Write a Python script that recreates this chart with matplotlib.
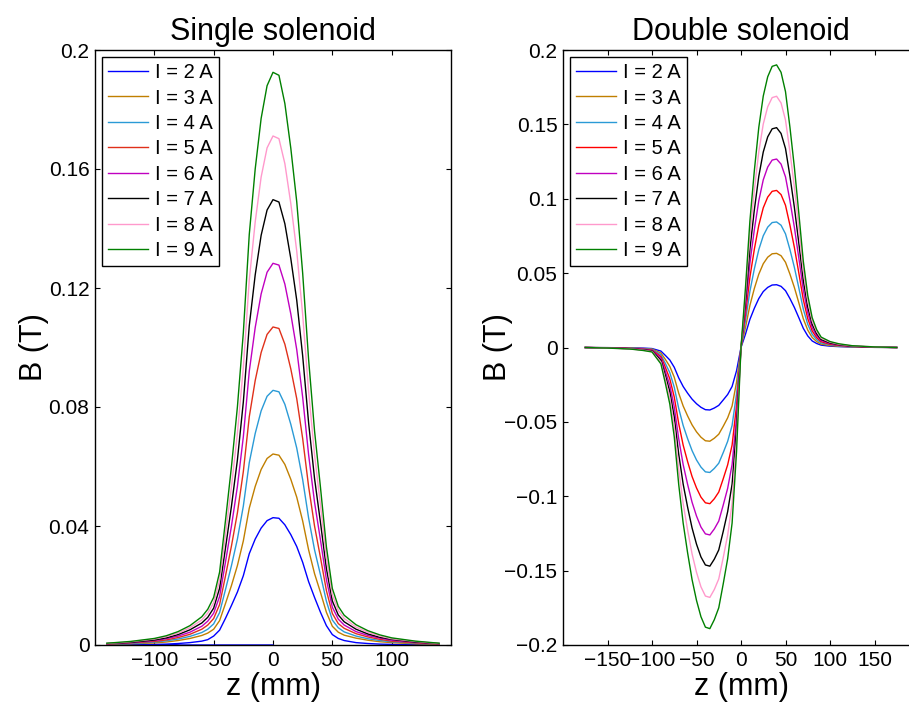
import matplotlib
matplotlib.use("Agg")
import matplotlib.pyplot as plt

plt.rcParams['font.family'] = ['Liberation Sans', 'DejaVu Sans']

currents = [2, 3, 4, 5, 6, 7, 8, 9]
labels = [f"I = {i} A" for i in currents]
colors_single = ['#0000ff', '#c07f00', '#2a9ad6', '#e0301a', '#c000c0', '#000000', '#ff99cc', '#008000']
colors_double = ['#0000ff', '#c07f00', '#2a9ad6', '#ff0000', '#c000c0', '#000000', '#ff99cc', '#008000']

# ---------------- Single solenoid ----------------
z_single = [-140, -120, -100, -90, -80, -70, -60, -55, -50, -45, -40, -35, -30, -25, -20, -15, -10, -5, 0,
            5, 10, 15, 20, 25, 30, 35, 40, 45, 50, 55, 60, 70, 80, 90, 100, 120, 140]
z_single_2A = [0] + z_single

B_single_2A = [0.0, 0.0000, 0.0001, 0.0002, 0.0003, 0.0005, 0.0008, 0.0013, 0.0018, 0.0030, 0.0050, 0.0090, 0.0133, 0.0178,
               0.0233, 0.0307, 0.0356, 0.0393, 0.0418, 0.0428, 0.0426, 0.0404, 0.0371, 0.0331, 0.0278, 0.0213,
               0.0160, 0.0110, 0.0065, 0.0035, 0.0022, 0.0015, 0.0008, 0.0005, 0.0003, 0.0002, 0.0001, 0.0000]
B_single_3A = [0.0002, 0.0004, 0.0007, 0.0010, 0.0015, 0.0022, 0.0032, 0.0040, 0.0053, 0.0082, 0.0140, 0.0200,
               0.0267, 0.0350, 0.0460, 0.0533, 0.0590, 0.0627, 0.0642, 0.0638, 0.0607, 0.0557, 0.0497, 0.0417,
               0.0320, 0.0240, 0.0177, 0.0110, 0.0063, 0.0043, 0.0033, 0.0023, 0.0016, 0.0011, 0.0008, 0.0004, 0.0002]
B_single_4A = [0.0003, 0.0005, 0.0010, 0.0014, 0.0020, 0.0029, 0.0042, 0.0053, 0.0071, 0.0109, 0.0187, 0.0267,
               0.0356, 0.0467, 0.0613, 0.0711, 0.0787, 0.0836, 0.0856, 0.0851, 0.0809, 0.0742, 0.0662, 0.0556,
               0.0427, 0.0320, 0.0236, 0.0147, 0.0084, 0.0058, 0.0044, 0.0030, 0.0021, 0.0015, 0.0011, 0.0006, 0.0003]
B_single_5A = [0.0003, 0.0007, 0.0012, 0.0017, 0.0025, 0.0036, 0.0053, 0.0067, 0.0089, 0.0136, 0.0233, 0.0333,
               0.0444, 0.0583, 0.0767, 0.0889, 0.0983, 0.1044, 0.1069, 0.1064, 0.1011, 0.0928, 0.0828, 0.0694,
               0.0533, 0.0400, 0.0294, 0.0183, 0.0106, 0.0072, 0.0056, 0.0038, 0.0027, 0.0019, 0.0013, 0.0007, 0.0003]
B_single_6A = [0.0004, 0.0008, 0.0015, 0.0021, 0.0030, 0.0043, 0.0063, 0.0080, 0.0107, 0.0163, 0.0280, 0.0400,
               0.0533, 0.0700, 0.0920, 0.1067, 0.1180, 0.1253, 0.1283, 0.1277, 0.1213, 0.1113, 0.0993, 0.0833,
               0.0640, 0.0480, 0.0353, 0.0220, 0.0127, 0.0087, 0.0067, 0.0045, 0.0032, 0.0023, 0.0016, 0.0009, 0.0004]
B_single_7A = [0.0005, 0.0009, 0.0017, 0.0024, 0.0035, 0.0051, 0.0074, 0.0093, 0.0124, 0.0191, 0.0327, 0.0467,
               0.0622, 0.0817, 0.1073, 0.1244, 0.1377, 0.1462, 0.1497, 0.1489, 0.1416, 0.1299, 0.1159, 0.0972,
               0.0747, 0.0560, 0.0412, 0.0257, 0.0148, 0.0101, 0.0078, 0.0053, 0.0037, 0.0026, 0.0019, 0.0010, 0.0005]
B_single_8A = [0.0005, 0.0011, 0.0020, 0.0028, 0.0040, 0.0058, 0.0084, 0.0107, 0.0142, 0.0218, 0.0373, 0.0533,
               0.0711, 0.0933, 0.1227, 0.1422, 0.1573, 0.1671, 0.1711, 0.1702, 0.1618, 0.1484, 0.1324, 0.1111,
               0.0853, 0.0640, 0.0471, 0.0293, 0.0169, 0.0116, 0.0089, 0.0060, 0.0043, 0.0030, 0.0021, 0.0012, 0.0005]
B_single_9A = [0.0006, 0.0012, 0.0022, 0.0031, 0.0045, 0.0065, 0.0095, 0.0120, 0.0160, 0.0245, 0.0420, 0.0600,
               0.0800, 0.1050, 0.1380, 0.1600, 0.1770, 0.1880, 0.1925, 0.1915, 0.1820, 0.1670, 0.1490, 0.1250,
               0.0960, 0.0720, 0.0530, 0.0330, 0.0190, 0.0130, 0.0100, 0.0068, 0.0048, 0.0034, 0.0024, 0.0013, 0.0006]

# ---------------- Double solenoid ----------------
z_double = [-175, -150, -125, -110, -100, -90, -85, -80, -75, -70, -65, -60, -55, -50, -45, -40, -35, -30, -25,
            -20, -15, -10, -5, 0, 5, 10, 15, 20, 25, 30, 35, 40, 45, 50, 55, 60, 65, 70, 75, 80, 85, 90, 100,
            110, 125, 150, 175]

B_double_2A = [0.0000, -0.0001, -0.0002, -0.0004, -0.0007, -0.0024, -0.0053, -0.0084, -0.0133, -0.0204, -0.0262,
               -0.0307, -0.0347, -0.0378, -0.0402, -0.0418, -0.0420, -0.0407, -0.0389, -0.0353, -0.0316, -0.0262,
               -0.0156, 0.0000, 0.0089, 0.0189, 0.0264, 0.0329, 0.0376, 0.0404, 0.0420, 0.0422, 0.0411, 0.0382,
               0.0329, 0.0269, 0.0200, 0.0129, 0.0078, 0.0044, 0.0027, 0.0016, 0.0009, 0.0006, 0.0003, 0.0001, 0.0000]
B_double_3A = [0.0000, -0.0001, -0.0003, -0.0007, -0.0010, -0.0037, -0.0080, -0.0127, -0.0200, -0.0307, -0.0393,
               -0.0460, -0.0520, -0.0567, -0.0603, -0.0627, -0.0630, -0.0610, -0.0583, -0.0530, -0.0473, -0.0393,
               -0.0233, 0.0000, 0.0133, 0.0283, 0.0397, 0.0493, 0.0563, 0.0607, 0.0630, 0.0633, 0.0617, 0.0573,
               0.0493, 0.0403, 0.0300, 0.0193, 0.0117, 0.0067, 0.0040, 0.0023, 0.0013, 0.0008, 0.0004, 0.0001, 0.0000]
B_double_4A = [0.0000, -0.0002, -0.0004, -0.0009, -0.0013, -0.0049, -0.0107, -0.0169, -0.0267, -0.0409, -0.0524,
               -0.0613, -0.0693, -0.0756, -0.0804, -0.0836, -0.0840, -0.0813, -0.0778, -0.0707, -0.0631, -0.0524,
               -0.0311, 0.0000, 0.0178, 0.0378, 0.0529, 0.0658, 0.0751, 0.0809, 0.0840, 0.0844, 0.0822, 0.0764,
               0.0658, 0.0538, 0.0400, 0.0258, 0.0156, 0.0089, 0.0053, 0.0031, 0.0018, 0.0011, 0.0005, 0.0002, 0.0000]
B_double_5A = [0.0000, -0.0002, -0.0006, -0.0011, -0.0017, -0.0061, -0.0133, -0.0211, -0.0333, -0.0511, -0.0656,
               -0.0767, -0.0867, -0.0944, -0.1006, -0.1044, -0.1050, -0.1017, -0.0972, -0.0883, -0.0789, -0.0656,
               -0.0389, 0.0000, 0.0222, 0.0472, 0.0661, 0.0822, 0.0939, 0.1011, 0.1050, 0.1056, 0.1028, 0.0956,
               0.0822, 0.0672, 0.0500, 0.0322, 0.0194, 0.0111, 0.0067, 0.0039, 0.0022, 0.0014, 0.0007, 0.0002, 0.0000]
B_double_6A = [0.0000, -0.0003, -0.0007, -0.0013, -0.0020, -0.0073, -0.0160, -0.0253, -0.0400, -0.0613, -0.0787,
               -0.0920, -0.1040, -0.1133, -0.1207, -0.1253, -0.1260, -0.1220, -0.1167, -0.1060, -0.0947, -0.0787,
               -0.0467, 0.0000, 0.0267, 0.0567, 0.0793, 0.0987, 0.1127, 0.1213, 0.1260, 0.1267, 0.1233, 0.1147,
               0.0987, 0.0807, 0.0600, 0.0387, 0.0233, 0.0133, 0.0080, 0.0047, 0.0027, 0.0017, 0.0008, 0.0003, 0.0000]
B_double_7A = [0.0000, -0.0003, -0.0008, -0.0016, -0.0023, -0.0086, -0.0187, -0.0296, -0.0467, -0.0716, -0.0918,
               -0.1073, -0.1213, -0.1322, -0.1408, -0.1462, -0.1470, -0.1423, -0.1361, -0.1237, -0.1104, -0.0918,
               -0.0544, 0.0000, 0.0311, 0.0661, 0.0926, 0.1151, 0.1314, 0.1416, 0.1470, 0.1478, 0.1439, 0.1338,
               0.1151, 0.0941, 0.0700, 0.0451, 0.0272, 0.0156, 0.0093, 0.0054, 0.0031, 0.0019, 0.0009, 0.0003, 0.0000]
B_double_8A = [0.0000, -0.0004, -0.0009, -0.0018, -0.0027, -0.0098, -0.0213, -0.0338, -0.0533, -0.0818, -0.1049,
               -0.1227, -0.1387, -0.1511, -0.1609, -0.1671, -0.1680, -0.1627, -0.1556, -0.1413, -0.1262, -0.1049,
               -0.0622, 0.0000, 0.0356, 0.0756, 0.1058, 0.1316, 0.1502, 0.1618, 0.1680, 0.1689, 0.1644, 0.1529,
               0.1316, 0.1076, 0.0800, 0.0516, 0.0311, 0.0178, 0.0107, 0.0062, 0.0036, 0.0022, 0.0011, 0.0004, 0.0000]
B_double_9A = [0.0000, -0.0004, -0.0010, -0.0020, -0.0030, -0.0110, -0.0240, -0.0380, -0.0600, -0.0920, -0.1180,
               -0.1380, -0.1560, -0.1700, -0.1810, -0.1880, -0.1890, -0.1830, -0.1750, -0.1590, -0.1420, -0.1180,
               -0.0700, 0.0000, 0.0400, 0.0850, 0.1190, 0.1480, 0.1690, 0.1820, 0.1890, 0.1900, 0.1850, 0.1720,
               0.1480, 0.1210, 0.0900, 0.0580, 0.0350, 0.0200, 0.0120, 0.0070, 0.0040, 0.0025, 0.0012, 0.0004, 0.0000]

single_series = [(z_single_2A, B_single_2A), (z_single, B_single_3A), (z_single, B_single_4A),
                 (z_single, B_single_5A), (z_single, B_single_6A), (z_single, B_single_7A),
                 (z_single, B_single_8A), (z_single, B_single_9A)]
double_series = [B_double_2A, B_double_3A, B_double_4A, B_double_5A, B_double_6A, B_double_7A,
                 B_double_8A, B_double_9A]

single_yticks = [0, 0.04, 0.08, 0.12, 0.16, 0.2]
single_yticklabels = ['0', '0.04', '0.08', '0.12', '0.16', '0.2']
single_xticks = [-100, -50, 0, 50, 100]
double_yticks = [-0.2, -0.15, -0.1, -0.05, 0, 0.05, 0.1, 0.15, 0.2]
double_yticklabels = ['\u22120.2', '\u22120.15', '\u22120.1', '\u22120.05', '0', '0.05', '0.1', '0.15', '0.2']
double_xticks = [-150, -100, -50, 0, 50, 100, 150]

fig = plt.figure(figsize=(9.09, 7.04), dpi=100)
ax1 = fig.add_axes([95 / 909, 59 / 704, 356 / 909, 595 / 704])
ax2 = fig.add_axes([563 / 909, 59 / 704, 356 / 909, 595 / 704])

for (z, b), c, lab in zip(single_series, colors_single, labels):
    ax1.plot(z, b, color=c, lw=1.0, label=lab)
for b, c, lab in zip(double_series, colors_double, labels):
    ax2.plot(z_double, b, color=c, lw=1.0, label=lab)

ax1.set_xlim(-150, 150)
ax1.set_ylim(0, 0.2)
ax1.set_xticks(single_xticks)
ax1.set_xticklabels([str(t).replace('-', '\u2212') for t in single_xticks])
ax1.set_yticks(single_yticks)
ax1.set_yticklabels(single_yticklabels)
ax1.set_title('Single solenoid', fontsize=22, pad=7)
ax1.set_ylabel('B (T)', fontsize=22, labelpad=0)

ax2.set_xlim(-200, 200)
ax2.set_ylim(-0.2, 0.2)
ax2.set_xticks(double_xticks)
ax2.set_xticklabels([str(t).replace('-', '\u2212') for t in double_xticks])
ax2.set_yticks(double_yticks)
ax2.set_yticklabels(double_yticklabels)
ax2.set_title('Double solenoid', fontsize=22, pad=7)
ax2.set_ylabel('B (T)', fontsize=22, labelpad=-6)

for ax in (ax1, ax2):
    ax.set_xlabel('z (mm)', fontsize=22, labelpad=2)
    ax.tick_params(direction='in', top=True, right=True, length=3.6, width=0.8,
                   labelsize=15, pad=4)
    for s in ax.spines.values():
        s.set_linewidth(1.0)
    leg = ax.legend(loc='upper left', fontsize=14.5, frameon=True, fancybox=False,
                    edgecolor='black', framealpha=1, handlelength=2.0, handletextpad=0.35,
                    labelspacing=0.32, borderaxespad=0.35, borderpad=0.3)
    leg.get_frame().set_linewidth(1.0)

fig.savefig('out.png', dpi=100)
